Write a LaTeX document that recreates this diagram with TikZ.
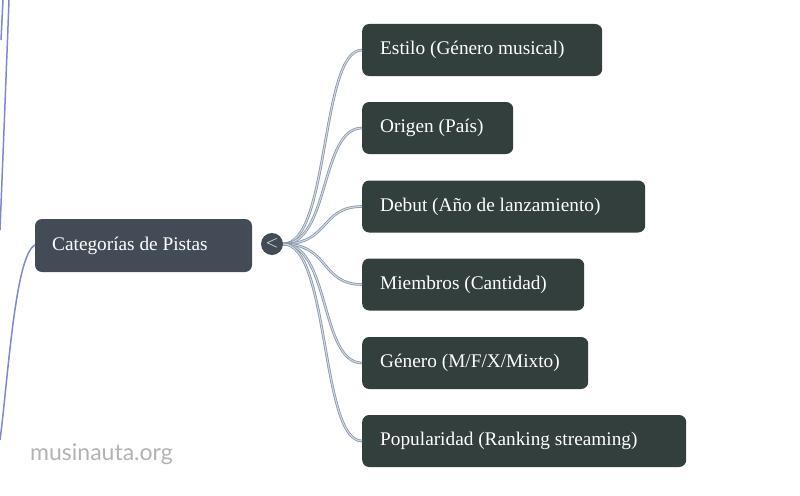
\documentclass[tikz,border=0pt]{standalone}
\usepackage{fontspec}
\setmainfont{Liberation Serif}
\newfontfamily\wmfont{Lato}
\begin{document}
\begin{tikzpicture}[x=1pt,y=-1pt,
  conn/.style={draw=connD,line width=2.6pt},
  connin/.style={draw=connL,line width=1.1pt},
  side/.style={draw=sideC,line width=1.5pt},
  lbl/.style={text=white,font=\fontsize{19.3}{22}\selectfont,anchor=west,inner sep=0pt}]
\definecolor{leafc}{HTML}{323F3C}
\definecolor{rootc}{HTML}{434C56}
\definecolor{connD}{HTML}{8792A3}
\definecolor{connL}{HTML}{D0DAE6}
\definecolor{sideC}{HTML}{8088D0}
\useasboundingbox (0,0) rectangle (800,495);
% side lines
\coordinate (t1) at (9,0); \coordinate (t1e) at (0,230);
\coordinate (t2) at (3,0); \coordinate (t2e) at (1,40);
\draw[side] (t1) .. controls (6,80) and (2,180) .. (t1e);
\draw[side] (t2) -- (t2e);
\coordinate (rin) at (35,245);
\coordinate (bend) at (0,440);
% root
\node[fill=rootc,rounded corners=7pt,minimum width=217pt,minimum height=53pt,inner sep=0pt] (root) at (143.5,245.5) {};
\node[lbl] (rtxt) at (52,245.5) {Categorías de Pistas};
\draw[side] (bend) .. controls (8,380) and (15,255) .. (rin);
\coordinate (hub) at (283,244);
% leaves
\foreach \n/\y/\w/\t in {a/50/240/{Estilo (Género musical)},b/128/151/{Origen (País)},c/206.5/283/{Debut (Año de lanzamiento)},d/284.5/222/{Miembros (Cantidad)},e/363/226/{Género (M/F/X/Mixto)},f/441/324/{Popularidad (Ranking streaming)}}{
  \node[fill=leafc,rounded corners=7pt,minimum width=\w pt,minimum height=52pt,inner sep=0pt,anchor=west] (\n) at (362,\y) {};
  \node[lbl] (\n t) at (380,\y) {\t};
  \draw[conn] (hub) .. controls (330,244) and (320,\y) .. (\n.west);
  \draw[connin] (hub) .. controls (330,244) and (320,\y) .. (\n.west);
}
\node[circle,fill=rootc,minimum size=22pt,inner sep=0pt] (btn) at (272,244) {};
\node[text=white,font=\sffamily\fontsize{17}{19}\selectfont,inner sep=0pt] (lt) at (272,243.5) {<};
\node[anchor=west,text=black!30,font=\wmfont\fontsize{23}{26}\selectfont,inner sep=0pt] (wm) at (30,454) {musinauta.org};
\end{tikzpicture}
\end{document}
